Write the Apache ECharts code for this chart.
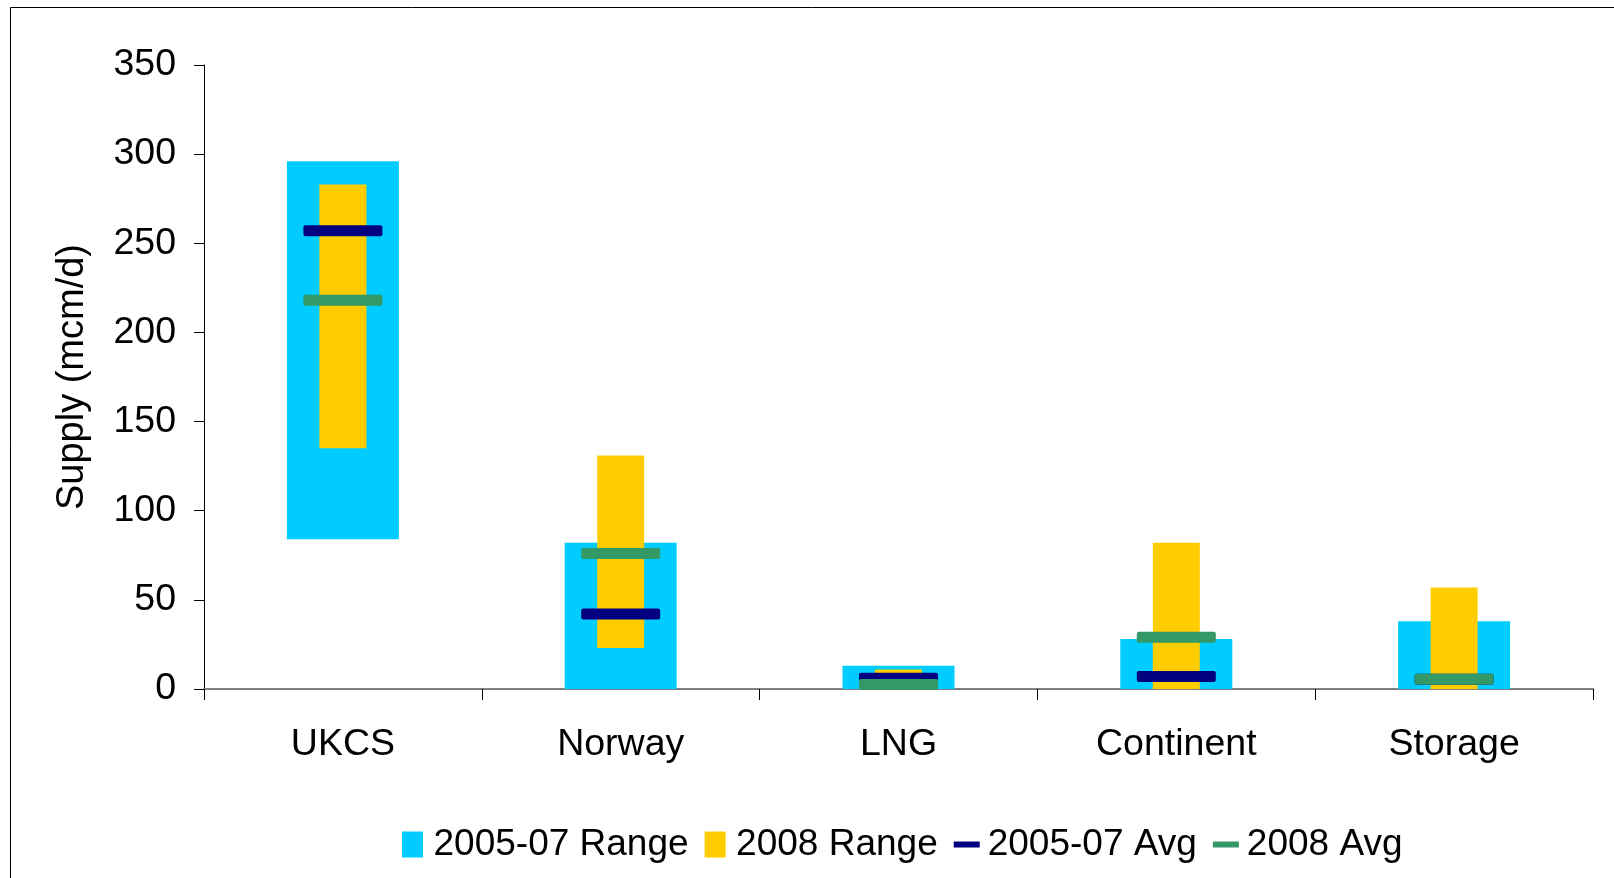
<!DOCTYPE html>
<html>
<head>
<meta charset="utf-8">
<title>Supply ranges</title>
<script src="https://cdn.jsdelivr.net/npm/echarts@6/dist/echarts.min.js"></script>
<style>
html, body { margin: 0; padding: 0; background: #fff; }
#main { width: 1614px; height: 878px; }
</style>
</head>
<body>
<div id="main"></div>
<script>
// categories and values (mcm/d)
var categories = ['UKCS', 'Norway', 'LNG', 'Continent', 'Storage'];
var range0507Low  = [84, 0, 0, 0, 0];
var range0507High = [296, 82, 13, 28, 38];
var range2008Low  = [135, 23, 0, 0, 0];
var range2008High = [283, 131, 11, 82, 57];
var avg0507 = [257, 42, 6, 7, 5.5];
var avg2008 = [218, 76, 2.5, 29, 5.5];
var yTicks = [0, 50, 100, 150, 200, 250, 300, 350];

var font = "'Liberation Sans', Arial, sans-serif";
// flat bar with slightly rounded corners for the averages
var avgMark = 'path://M2,0 H77 Q79,0 79,2 V9 Q79,11 77,11 H2 Q0,11 0,9 V2 Q0,0 2,0 Z';

function span(lo, hi) {
    var out = [];
    for (var i = 0; i < lo.length; i++) {
        out.push(hi[i] - lo[i]);
    }
    return out;
}

var myChart = echarts.init(document.getElementById('main'));
myChart.setOption({
    animation: false,
    backgroundColor: '#ffffff',
    textStyle: { fontFamily: font, color: '#000' },
    graphic: [{
        type: 'rect',
        left: 8, top: 5,
        shape: { width: 1700, height: 1000 },
        style: { fill: 'none', stroke: '#000', lineWidth: 1 },
        silent: true
    }],
    grid: { left: 204, right: 21, top: 65, bottom: 189, containLabel: false },
    legend: {
        left: 397,
        top: 821,
        itemWidth: 26,
        itemHeight: 26,
        itemGap: 16,
        symbolKeepAspect: true,
        selectedMode: false,
        textStyle: { fontFamily: font, fontSize: 37, color: '#000', padding: [0, 0, 0, 3] },
        data: [
            { name: '2005-07 Range', icon: 'path://M0,0 L21,0 L21,26 L0,26 Z' },
            { name: '2008 Range', icon: 'path://M0,0 L21,0 L21,26 L0,26 Z' },
            { name: '2005-07 Avg', icon: 'path://M0,0 L26,0 L26,6 L0,6 Z' },
            { name: '2008 Avg', icon: 'path://M0,0 L26,0 L26,6 L0,6 Z' }
        ]
    },
    xAxis: [{
        type: 'category',
        data: categories,
        boundaryGap: true,
        axisLine: { show: true, lineStyle: { color: '#808080', width: 2 } },
        axisTick: { show: true, length: 11, lineStyle: { color: '#000', width: 1 } },
        axisLabel: { fontFamily: font, fontSize: 37.5, color: '#000', margin: 37 },
        splitLine: { show: false }
    }, {
        type: 'category',
        data: categories,
        show: false
    }],
    yAxis: {
        type: 'value',
        min: 0,
        max: 350,
        interval: 50,
        name: 'Supply (mcm/d)',
        nameLocation: 'middle',
        nameGap: 112,
        nameTextStyle: { fontFamily: font, fontSize: 38, color: '#000' },
        axisLine: { show: true, lineStyle: { color: '#000', width: 1 } },
        axisTick: { show: true, length: 10, lineStyle: { color: '#000' } },
        axisLabel: {
            fontFamily: font, fontSize: 37.5, color: '#000', margin: 28,
            formatter: function (v) { return yTicks.indexOf(v) >= 0 ? String(v) : ''; }
        },
        splitLine: { show: false }
    },
    series: [{
        name: 'base0507',
        type: 'bar',
        stack: 'r0507',
        xAxisIndex: 0,
        barWidth: 112,
        silent: true,
        itemStyle: { color: 'transparent' },
        data: range0507Low
    }, {
        name: '2005-07 Range',
        type: 'bar',
        stack: 'r0507',
        xAxisIndex: 0,
        barWidth: 112,
        silent: true,
        itemStyle: { color: '#00CCFF' },
        data: span(range0507Low, range0507High)
    }, {
        name: 'base2008',
        type: 'bar',
        stack: 'r2008',
        xAxisIndex: 1,
        barWidth: 47,
        silent: true,
        itemStyle: { color: 'transparent' },
        data: range2008Low
    }, {
        name: '2008 Range',
        type: 'bar',
        stack: 'r2008',
        xAxisIndex: 1,
        barWidth: 47,
        silent: true,
        itemStyle: { color: '#FFCC00' },
        data: span(range2008Low, range2008High)
    }, {
        name: '2005-07 Avg',
        type: 'scatter',
        xAxisIndex: 0,
        symbol: avgMark,
        symbolSize: [79, 11],
        silent: true,
        itemStyle: { color: '#000080', opacity: 1 },
        data: avg0507
    }, {
        name: '2008 Avg',
        type: 'scatter',
        xAxisIndex: 0,
        symbol: avgMark,
        symbolSize: [79, 11],
        silent: true,
        itemStyle: { color: '#339966', opacity: 1 },
        data: avg2008
    }]
});
</script>
</body>
</html>
